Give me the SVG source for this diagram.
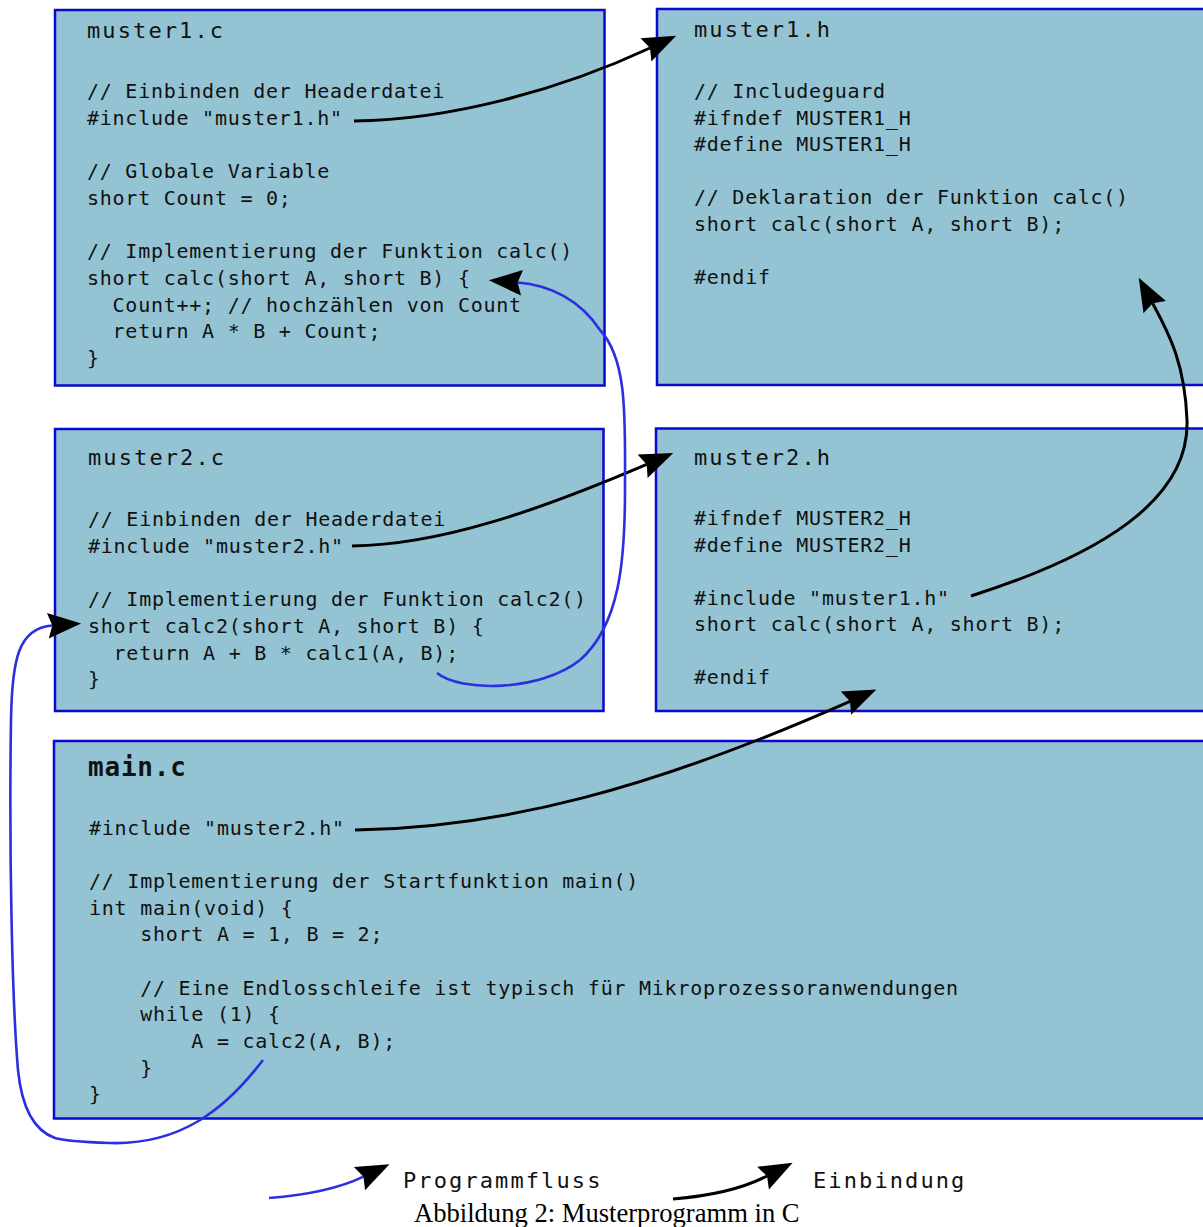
<svg xmlns="http://www.w3.org/2000/svg" width="1203" height="1227" viewBox="0 0 1203 1227">
<style>
.box{fill:#94c4d3;stroke:#0a0acc;stroke-width:2.5}
.code{font-family:"DejaVu Sans Mono",monospace;font-size:20px;letter-spacing:0.75px;fill:#111;white-space:pre}
.title{font-family:"DejaVu Sans Mono",monospace;font-size:22px;letter-spacing:2.1px;fill:#111}
.mtitle{font-family:"DejaVu Sans Mono",monospace;font-size:26px;font-weight:bold;letter-spacing:0.8px;fill:#111}
.inc{fill:none;stroke:#000;stroke-width:3}
.flow{fill:none;stroke:#2a30e0;stroke-width:2.6}
.cap{font-family:"Liberation Serif",serif;font-size:26.6px;fill:#000}
</style>
<defs>
<marker id="ah" markerUnits="userSpaceOnUse" orient="auto" refX="4" refY="0" markerWidth="40" markerHeight="40" viewBox="-2 -14 36 28" overflow="visible">
<path d="M30,0 L0,-11.5 L4,0 L0,11.5 Z" fill="#000"/>
</marker>
</defs>

<g id="muster1_c">
<rect class="box" x="55" y="10" width="549.5" height="375.5"/>
<text class="title" x="87" y="38">muster1.c</text>
<text class="code" x="87" y="98">// Einbinden der Headerdatei</text>
<text class="code" x="87" y="125">#include "muster1.h"</text>
<text class="code" x="87" y="178">// Globale Variable</text>
<text class="code" x="87" y="205">short Count = 0;</text>
<text class="code" x="87" y="258">// Implementierung der Funktion calc()</text>
<text class="code" x="87" y="285">short calc(short A, short B) {</text>
<text class="code" x="87" y="311.5" xml:space="preserve">  Count++; // hochzählen von Count</text>
<text class="code" x="87" y="338" xml:space="preserve">  return A * B + Count;</text>
<text class="code" x="87" y="365">}</text>
</g>

<g id="muster1_h">
<rect class="box" x="657" y="9" width="560" height="376"/>
<text class="title" x="694" y="37">muster1.h</text>
<text class="code" x="694" y="98">// Includeguard</text>
<text class="code" x="694" y="124.5">#ifndef MUSTER1_H</text>
<text class="code" x="694" y="151">#define MUSTER1_H</text>
<text class="code" x="694" y="204">// Deklaration der Funktion calc()</text>
<text class="code" x="694" y="230.5">short calc(short A, short B);</text>
<text class="code" x="694" y="284">#endif</text>
</g>

<g id="muster2_c">
<rect class="box" x="55" y="429" width="548.5" height="282"/>
<text class="title" x="88" y="465">muster2.c</text>
<text class="code" x="88" y="526">// Einbinden der Headerdatei</text>
<text class="code" x="88" y="553">#include "muster2.h"</text>
<text class="code" x="88" y="606">// Implementierung der Funktion calc2()</text>
<text class="code" x="88" y="632.5">short calc2(short A, short B) {</text>
<text class="code" x="88" y="659.5" xml:space="preserve">  return A + B * calc1(A, B);</text>
<text class="code" x="88" y="686">}</text>
</g>

<g id="muster2_h">
<rect class="box" x="656" y="428.5" width="560" height="282.5"/>
<text class="title" x="694" y="465">muster2.h</text>
<text class="code" x="694" y="525">#ifndef MUSTER2_H</text>
<text class="code" x="694" y="551.5">#define MUSTER2_H</text>
<text class="code" x="694" y="604.5">#include "muster1.h"</text>
<text class="code" x="694" y="631">short calc(short A, short B);</text>
<text class="code" x="694" y="684">#endif</text>
</g>

<g id="main_c">
<rect class="box" x="54" y="741" width="1160" height="377.5"/>
<text class="mtitle" x="88" y="776">main.c</text>
<text class="code" x="89" y="834.5">#include "muster2.h"</text>
<text class="code" x="89" y="888">// Implementierung der Startfunktion main()</text>
<text class="code" x="89" y="914.5">int main(void) {</text>
<text class="code" x="89" y="941" xml:space="preserve">    short A = 1, B = 2;</text>
<text class="code" x="89" y="994.5" xml:space="preserve">    // Eine Endlosschleife ist typisch für Mikroprozessoranwendungen</text>
<text class="code" x="89" y="1021" xml:space="preserve">    while (1) {</text>
<text class="code" x="89" y="1048" xml:space="preserve">        A = calc2(A, B);</text>
<text class="code" x="89" y="1074.5" xml:space="preserve">    }</text>
<text class="code" x="89" y="1101">}</text>
</g>

<g id="connectors">
<path class="inc" marker-end="url(#ah)" d="M354,121 C450,120 560,90 650,48"/>
<path class="inc" marker-end="url(#ah)" d="M352,546 C440,545 540,510 646.7,464.4"/>
<path class="inc" marker-end="url(#ah)" d="M355,830 C500,828 650,790 850,701.3"/>
<path class="inc" marker-end="url(#ah)" d="M971,596 C1100,555 1190,500 1187,420 C1185,365 1170,335 1152.6,303.2"/>
<path class="flow" marker-end="url(#ah)" d="M437,673 C460,692 540,692 580,660 C620,625 625,560 625,490 C625,420 628,360 600,330 C580,300 550,285 517.6,282.5"/>
<path class="flow" marker-end="url(#ah)" d="M263,1060 C225,1110 180,1145 110,1143 C82,1142 64,1141 55,1138 C35,1131 22,1110 18,1070 C12,1000 9,850 11,720 C12,660 18,628 52.3,625.5"/>
</g>

<g id="legend">
<path class="flow" marker-end="url(#ah)" d="M269,1198 C310,1195 340,1188 363.5,1176.7"/>
<text class="title" x="403" y="1188">Programmfluss</text>
<path class="inc" marker-end="url(#ah)" d="M673,1199 C710,1196 740,1190 767,1176"/>
<text class="title" x="813" y="1188">Einbindung</text>
</g>

<text class="cap" x="414" y="1222">Abbildung 2: Musterprogramm in C</text>
</svg>
